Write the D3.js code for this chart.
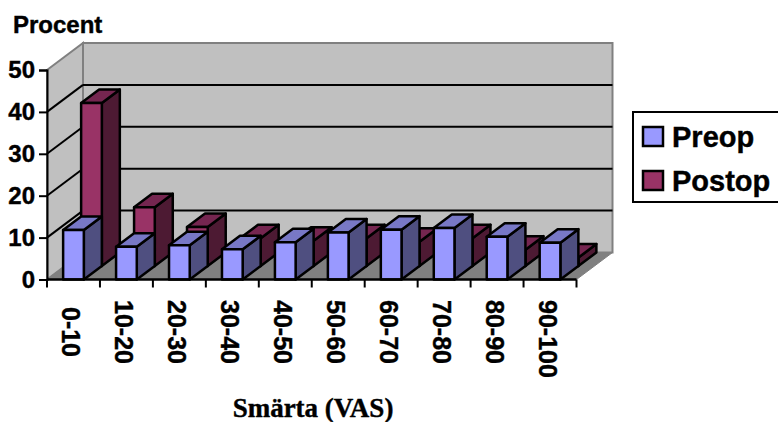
<!DOCTYPE html>
<html>
<head>
<meta charset="utf-8">
<script src="https://cdn.jsdelivr.net/npm/d3@7"></script>
<style>
    html, body { margin: 0; padding: 0; background: #fff; overflow: hidden; }
    text { font-family: "Liberation Sans", Arial, sans-serif; font-weight: bold; fill: #000; stroke: #000; stroke-width: 0.4px; }
</style>
</head>
<body>
<div id="chart"></div>
<script>
const categories = ["0-10", "10-20", "20-30", "30-40", "40-50", "50-60", "60-70", "70-80", "80-90", "90-100"];
const preop = [11.8, 7.8, 8.2, 7.2, 8.9, 11.2, 11.9, 12.3, 10.2, 8.8];
const postop = [38.9, 14, 9.3, 6.6, 6.0, 6.6, 5.8, 6.6, 3.9, 2.0];
const yTicks = [0, 10, 20, 30, 40, 50];
const seriesNames = ["Preop", "Postop"];

const width = 778, height = 422;
const depth = { x: 36, y: -27 };

// front, top, side colours per series
const shades = {
    Preop: ["#9999ff", "#7878c6", "#4f4f80"],
    Postop: ["#993366", "#752650", "#4d1a33"]
};

const svg = d3.select("#chart").append("svg")
    .attr("width", width)
    .attr("height", height)
    .style("display", "block");

const x = d3.scaleBand().domain(categories).range([47, 576.5]);
const y = d3.scaleLinear().domain([0, 50]).range([279.5, 70]);

const barWidth = 20.7;
const barOffset = (x.bandwidth() - barWidth) / 2;

const poly = pts => pts.map(p => p.join(",")).join(" ");
const x0 = x.range()[0], x1 = x.range()[1];

// left wall, back wall, floor
svg.append("polygon")
    .attr("points", poly([[x0, y(50)], [x0 + depth.x, y(50) + depth.y], [x0 + depth.x, y(0) + depth.y], [x0, y(0)]]))
    .attr("fill", "#c0c0c0").attr("stroke", "#808080").attr("stroke-width", 2);
svg.append("polygon")
    .attr("points", poly([[x0 + depth.x, y(50) + depth.y], [x1 + depth.x, y(50) + depth.y], [x1 + depth.x, y(0) + depth.y], [x0 + depth.x, y(0) + depth.y]]))
    .attr("fill", "#c0c0c0").attr("stroke", "#808080").attr("stroke-width", 2);
svg.append("polygon")
    .attr("points", poly([[x0, y(0)], [x1, y(0)], [x1 + depth.x, y(0) + depth.y], [x0 + depth.x, y(0) + depth.y]]))
    .attr("fill", "#808080").attr("stroke", "#808080");

// grid lines on both walls
const grid = yTicks.filter(d => d > 0 && d < 50);
svg.selectAll(".gridBack").data(grid).enter().append("line")
    .attr("x1", x0 + depth.x).attr("x2", x1 + depth.x)
    .attr("y1", d => y(d) + depth.y).attr("y2", d => y(d) + depth.y)
    .attr("stroke", "#000").attr("stroke-width", 2);
svg.selectAll(".gridLeft").data(grid).enter().append("line")
    .attr("x1", x0).attr("x2", x0 + depth.x)
    .attr("y1", d => y(d)).attr("y2", d => y(d) + depth.y)
    .attr("stroke", "#000").attr("stroke-width", 2);

function drawSeries(name, values, z) {
    const [front, top, side] = shades[name];
    const dx = depth.x / 2, dy = depth.y / 2;
    const ox = z * dx, oy = z * dy;
    const g = svg.append("g")
        .attr("stroke", "#000").attr("stroke-width", 2.5).attr("stroke-linejoin", "round");
    categories.forEach((c, i) => {
        const l = x(c) + barOffset + ox, r = l + barWidth;
        const t = y(values[i]) + oy, b = y(0) + oy;
        g.append("polygon").attr("fill", side)
            .attr("points", poly([[r, t], [r + dx, t + dy], [r + dx, b + dy], [r, b]]));
        g.append("polygon").attr("fill", top)
            .attr("points", poly([[l, t], [l + dx, t + dy], [r + dx, t + dy], [r, t]]));
        g.append("rect").attr("fill", front)
            .attr("x", l).attr("y", t).attr("width", barWidth).attr("height", b - t);
    });
}
drawSeries("Postop", postop, 1);
drawSeries("Preop", preop, 0);

// axes
const axisLeft = svg.append("g")
    .attr("transform", `translate(${x0},0)`)
    .call(d3.axisLeft(y).tickValues(yTicks).tickSize(8).tickPadding(4));
axisLeft.selectAll("path, line").attr("stroke", "#000").attr("stroke-width", 2);
axisLeft.selectAll("text").style("font-size", "24px").style("font-family", "Liberation Sans").style("font-weight", "bold");

const xEdges = categories.map(c => x(c)).concat(x1);
svg.selectAll(".tick-x").data(xEdges).enter().append("line")
    .attr("x1", d => d).attr("x2", d => d)
    .attr("y1", y(0)).attr("y2", y(0) + 8)
    .attr("stroke", "#000").attr("stroke-width", 2);
svg.append("line")
    .attr("x1", x0).attr("x2", x1).attr("y1", y(0)).attr("y2", y(0))
    .attr("stroke", "#000").attr("stroke-width", 2.5);

// rotated labels: centred on one line, the long one hangs from the top
svg.selectAll(".cat").data(categories).enter().append("text")
    .style("font-size", "25px")
    .text(d => d)
    .attr("transform", function(d) {
        const start = Math.max(300, 332 - this.getComputedTextLength() / 2);
        return `translate(${x(d) + x.bandwidth() / 2 - 11},${start}) rotate(90)`;
    });

svg.append("text").attr("x", 13).attr("y", 32.5).style("font-size", "24px").text("Procent");
svg.append("text").attr("x", 313).attr("y", 417)
    .attr("text-anchor", "middle")
    .style("font-family", "'Liberation Serif', serif")
    .style("font-size", "27px")
    .text("Smärta (VAS)");

// legend, box runs off the right edge like the original
svg.append("rect")
    .attr("x", 633).attr("y", 112).attr("width", 160).attr("height", 90)
    .attr("fill", "#fff").attr("stroke", "#000").attr("stroke-width", 2);
const legendY = d3.scalePoint().domain(seriesNames).range([136, 180]);
seriesNames.forEach(n => {
    svg.append("rect")
        .attr("x", 643).attr("y", legendY(n) - 9).attr("width", 20).attr("height", 19)
        .attr("fill", shades[n][0]).attr("stroke", "#000").attr("stroke-width", 2.5);
    svg.append("text").attr("x", 672).attr("y", legendY(n) + 11)
        .style("font-size", "29px").text(n);
});
</script>
</body>
</html>
